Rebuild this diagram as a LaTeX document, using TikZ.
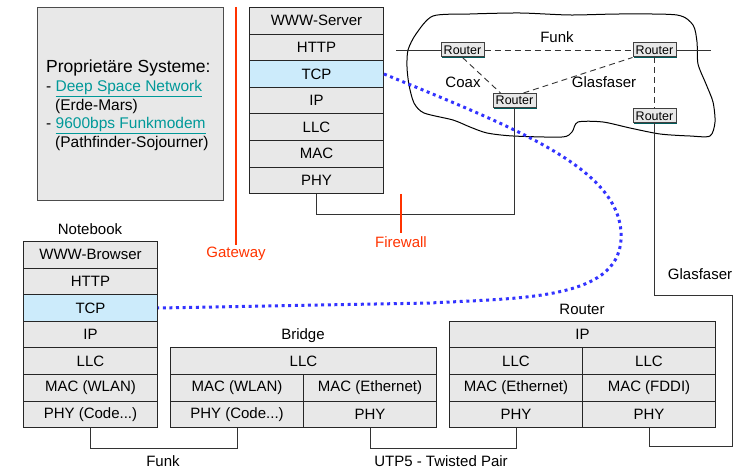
\documentclass[tikz,border=0pt]{standalone}
\usepackage{fontspec}
\setmainfont{Liberation Sans}
\usetikzlibrary{shadows}
\definecolor{layerfill}{HTML}{E8E8E8}
\definecolor{tcpfill}{HTML}{CCEBFB}
\definecolor{gwred}{HTML}{FF3300}
\definecolor{linkteal}{HTML}{009999}
\definecolor{dotblue}{HTML}{3333FF}
\definecolor{shadowteal}{HTML}{005A5A}
\definecolor{wiregray}{HTML}{333333}

\begin{document}
\begin{tikzpicture}[x=1pt,y=-1pt,
  txt/.style={font=\fontsize{15}{18}\selectfont},
  stack/.style={txt, draw=black!85, fill=layerfill, line width=1pt,
    minimum width=134pt, minimum height=26.6pt, inner sep=0pt, anchor=north west},
  wide/.style={stack, minimum width=266pt},
  half/.style={stack, minimum width=133pt},
  tcp/.style={fill=tcpfill},
  crt/.style={draw=black!75, fill=layerfill, line width=1pt, inner sep=0pt,
    minimum width=43pt, minimum height=14pt, font=\fontsize{12.5}{14}\selectfont,
    drop shadow={shadow xshift=1.3pt, shadow yshift=-1.3pt, fill=shadowteal, opacity=1}},
  wire/.style={draw=wiregray, line width=0.9pt},
  dashwire/.style={wire, dash pattern=on 6pt off 4pt},
  redline/.style={draw=gwred, line width=2pt},
  lbl/.style={txt, anchor=base, inner sep=0pt},
  redlbl/.style={lbl, text=gwred},
  tcplink/.style={draw=dotblue, line width=3pt, dash pattern=on 3pt off 3.6pt},
  plain/.style={anchor=base west, inner sep=0pt}]

\useasboundingbox (0,0) rectangle (742,470);

% proprietary systems box
\node[draw=black!70, fill=layerfill, line width=1pt, minimum width=186pt,
      minimum height=193pt, anchor=north west, inner sep=0pt] (prop) at (37,7) {};
\node[plain, font=\fontsize{17.5}{20}\selectfont] (p1) at (46,72.5) {Proprietäre Systeme:};
\node[plain, font=\fontsize{15.5}{18}\selectfont] (p2) at (46,92)
  {- \textcolor{linkteal}{\underline{Deep Space Network}}};
\node[plain, font=\fontsize{15.5}{18}\selectfont] (p3) at (55,110.5) {(Erde-Mars)};
\node[plain, font=\fontsize{15.5}{18}\selectfont] (p4) at (46,129)
  {- \textcolor{linkteal}{\underline{9600bps Funkmodem}}};
\node[plain, font=\fontsize{15.5}{18}\selectfont] (p5) at (55,148) {(Pathfinder-Sojourner)};

% network cloud
\draw[line width=1pt] plot[smooth cycle, tension=0.45] coordinates {
  (408,50) (416,34) (433,16) (470,14) (520,13) (570,15) (620,14) (677,15)
  (693,25) (697,42) (698,64) (706,84) (713,102) (715,122) (710,136)
  (690,136) (660,134) (630,128) (603,122) (578,122) (572,132) (562,137)
  (513,136) (487,133) (470,127) (453,120) (424,113) (414,103) (409,85) (407,67)};

% WWW server stack
\node[stack]     (s1) at (249,7.0)   {WWW-Server};
\node[stack]     (s2) at (249,33.6)  {HTTP};
\node[stack,tcp] (s3) at (249,60.2)  {TCP};
\node[stack]     (s4) at (249,86.8)  {IP};
\node[stack]     (s5) at (249,113.4) {LLC};
\node[stack]     (s6) at (249,140.0) {MAC};
\node[stack]     (s7) at (249,166.6) {PHY};

% notebook stack
\node[lbl] (nbl) at (90,235) {Notebook};
\node[stack]     (n1) at (23,241.0) {WWW-Browser};
\node[stack]     (n2) at (23,267.6) {HTTP};
\node[stack,tcp] (n3) at (23,294.2) {TCP};
\node[stack]     (n4) at (23,320.8) {IP};
\node[stack]     (n5) at (23,347.4) {LLC};
\node[stack]     (n6) at (23,374.0) {MAC (WLAN)};
\node[stack]     (n7) at (23,400.6) {PHY (Code...)};

% bridge
\node[lbl] (brl) at (303,340) {Bridge};
\node[wide] (b1) at (170,347.4) {LLC};
\node[half] (b2) at (170,374.0) {MAC (WLAN)};
\node[half] (b3) at (303,374.0) {MAC (Ethernet)};
\node[half] (b4) at (170,400.6) {PHY (Code...)};
\node[half] (b5) at (303,400.6) {PHY};

% router
\node[lbl] (rtl) at (582,315) {Router};
\node[wide] (r1) at (449,320.8) {IP};
\node[half] (r2) at (449,347.4) {LLC};
\node[half] (r3) at (582,347.4) {LLC};
\node[half] (r4) at (449,374.0) {MAC (Ethernet)};
\node[half] (r5) at (582,374.0) {MAC (FDDI)};
\node[half] (r6) at (449,400.6) {PHY};
\node[half] (r7) at (582,400.6) {PHY};

% routers inside the cloud
\node[crt] (c1) at (462.5,50)  {Router};
\node[crt] (c2) at (654.5,50)  {Router};
\node[crt] (c3) at (514.5,100.5) {Router};
\node[crt] (c4) at (654.5,116) {Router};

\coordinate (fl) at (396,50);
\coordinate (fr) at (711,50);
\draw[wire] (fl) -- (c1.west);
\draw[dashwire] (c1.east) -- (c2.west);
\draw[wire] (c2.east) -- (fr);
\draw[dashwire] (c1.south) -- ([xshift=8pt]c3.north west);
\draw[dashwire] ([xshift=-13pt]c3.north east) -- (c2.south west);
\draw[dashwire] (c2.south) -- (c4.north);

\node[lbl] (funk2) at (557,43) {Funk};
\node[lbl] (coax)  at (463,88) {Coax};
\node[lbl] (glas1) at (604,88) {Glasfaser};

% cabling
\draw[wire] (n7.south) -- ++(0,20) -| (b4.south);
\draw[wire] (b5.south) -- ++(0,20) -| (r6.south);
\draw[wire] (s7.south) -- ++(0,20.5) -| (c3.south);
\coordinate (g1) at (732,295);
\coordinate (g2) at (732,446.5);
\draw[wire] (c4.south) |- (g1) -- (g2) -| (r7.south);

\node[lbl] (funk1) at (163,466) {Funk};
\node[lbl] (utp)   at (441,466) {UTP5 - Twisted Pair};
\node[lbl] (glas2) at (700,280) {Glasfaser};

% gateway and firewall markers
\coordinate (gwtop) at (236,7);
\coordinate (gwbot) at (236,245);
\draw[redline] (gwtop) -- (gwbot);
\node[redlbl] (gw) at (236,258) {Gateway};
\coordinate (fwtop) at (401,194);
\coordinate (fwbot) at (401,233);
\draw[redline] (fwtop) -- (fwbot);
\node[redlbl] (fw) at (401,247.5) {Firewall};

% end-to-end TCP connection
\coordinate (loop) at (621,240);
\draw[tcplink] (s3.east) .. controls (520,130) and (625,170) .. (loop)
  .. controls (617,300) and (520,298) .. (430,303) -- (n3.east);

\end{tikzpicture}
\end{document}
